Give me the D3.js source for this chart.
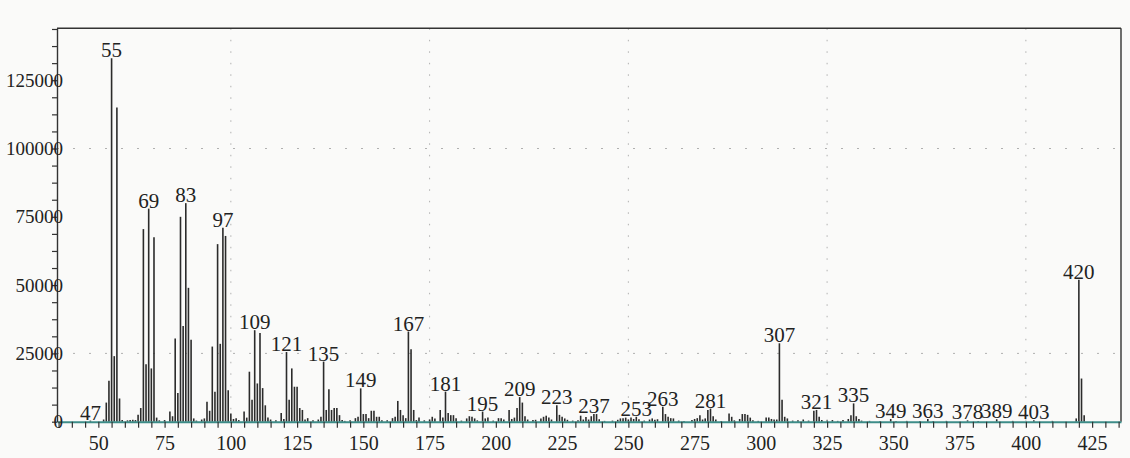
<!DOCTYPE html>
<html>
<head>
<meta charset="utf-8">
<script src="https://cdn.jsdelivr.net/npm/d3@7"></script>
<style>
  body { margin: 0; background: #fafaf9; }
  svg { display: block; }
  text { font-family: "Liberation Serif", "Times New Roman", serif; fill: #222; }
</style>
</head>
<body>
<svg id="chart"></svg>
<script>
// m/z of each peak and its intensity
const peakMz = [
  47, 52, 53, 54, 55, 56, 57, 58, 59, 61, 62, 63, 64, 65, 66, 67, 68, 69, 70, 71, 72, 73, 75,
  77, 78, 79, 80, 81, 82, 83, 84, 85, 86, 87, 89, 90, 91, 92, 93, 94, 95, 96, 97, 98, 99, 100,
  101, 102, 103, 105, 106, 107, 108, 109, 110, 111, 112, 113, 114, 115, 117, 119, 120, 121,
  122, 123, 124, 125, 126, 127, 128, 129, 131, 133, 134, 135, 136, 137, 138, 139, 140, 141,
  142, 143, 145, 147, 148, 149, 150, 151, 152, 153, 154, 155, 156, 157, 159, 161, 162, 163,
  164, 165, 166, 167, 168, 169, 170, 171, 173, 175, 176, 177, 179, 180, 181, 182, 183, 184,
  185, 187, 189, 190, 191, 192, 193, 195, 196, 197, 199, 201, 202, 203, 205, 206, 207, 208,
  209, 210, 211, 212, 214, 215, 217, 218, 219, 220, 221, 223, 224, 225, 226, 227, 229, 231,
  232, 233, 234, 235, 236, 237, 238, 239, 241, 244, 246, 247, 248, 249, 250, 251, 252, 253,
  254, 256, 258, 259, 260, 261, 263, 264, 265, 266, 267, 269, 271, 274, 275, 276, 277, 278,
  279, 280, 281, 282, 283, 285, 288, 289, 290, 292, 293, 294, 295, 296, 297, 299, 302, 303,
  304, 305, 306, 307, 308, 309, 310, 312, 314, 316, 318, 320, 321, 322, 323, 325, 327, 329,
  331, 333, 334, 335, 336, 337, 338, 341, 345, 349, 351, 355, 360, 363, 365, 370, 378, 382,
  389, 395, 403, 410, 419, 420, 421, 422
];
const peakIntensity = [
  400, 800, 7000, 15000, 133000, 24000, 115000, 8500, 600, 500, 600, 700, 600, 2500, 5000, 70500, 21000, 78000, 19500, 67500, 1500, 500, 600,
  3700, 2000, 30500, 10500, 75000, 35000, 80000, 49000, 30000, 1200, 400, 800, 1200, 7300, 4000, 27500, 11000, 65000, 28500, 71000, 68000, 11500, 3000,
  1000, 1300, 600, 3700, 1500, 18300, 8000, 33500, 14000, 32500, 12300, 6000, 1500, 800, 500, 3200, 1000, 25500,
  8000, 19500, 12800, 12800, 5000, 4300, 800, 1300, 500, 800, 1800, 22000, 4300, 11900, 4300, 5000, 5000, 2400,
  600, 300, 500, 1300, 1800, 12200, 2800, 2800, 1300, 4000, 4000, 1800, 1800, 500, 500, 1300, 1800, 7600,
  4300, 2400, 1300, 33000, 26500, 4300, 600, 1500, 500, 800, 1800, 1200, 4300, 1500, 11000, 3200, 2400, 2400,
  1300, 400, 1200, 2000, 1800, 1200, 500, 3700, 1200, 1500, 400, 1300, 1300, 800, 4300, 1000, 1500, 5000,
  9000, 7000, 2000, 800, 600, 700, 1200, 1800, 2200, 1500, 800, 6000, 2500, 1800, 1200, 700, 400, 500,
  2200, 800, 1700, 800, 2000, 2800, 2800, 900, 300, 400, 700, 1200, 1300, 1500, 800, 1500, 1000, 1800,
  900, 400, 800, 1200, 700, 900, 5500, 2800, 1800, 1300, 1200, 400, 300, 600, 1000, 1300, 2400, 800,
  1200, 4300, 4800, 2000, 800, 300, 3000, 1800, 500, 1000, 2800, 2800, 2500, 1500, 500, 300, 1500, 1500,
  1000, 800, 800, 28700, 8000, 1800, 1200, 400, 500, 800, 400, 4000, 4300, 1800, 600, 400, 600, 300,
  600, 1000, 2400, 6700, 2000, 1000, 400, 300, 300, 1000, 300, 300, 300, 1000, 300, 300, 500, 300,
  900, 300, 500, 300, 1200, 52000, 15800, 2400
];
// peaks that carry an m/z label
const labelMz = [47, 55, 69, 83, 97, 109, 121, 135, 149, 167, 181, 195, 209, 223, 237, 253, 263,
  281, 307, 321, 335, 349, 363, 378, 389, 403, 420];
// axis labels
const xTickLabels = [50, 75, 100, 125, 150, 175, 200, 225, 250, 275, 300, 325, 350, 375, 400, 425];
const yTickLabels = [0, 25000, 50000, 75000, 100000, 125000];
const xGrid = [100, 175, 250, 325, 400];
const yGrid = [25000, 100000];

const W = 1130, H = 458;
const margin = {top: 28.3, right: 9, bottom: 36.3, left: 57};
const width = W - margin.left - margin.right;
const height = H - margin.top - margin.bottom;

const svg = d3.select("#chart").attr("width", W).attr("height", H);
const g = svg.append("g").attr("transform", `translate(${margin.left},${margin.top})`);

const x = d3.scaleLinear().domain([34.4, 435.9]).range([0, width]);
const y = d3.scaleLinear().domain([0, 144000]).range([height, 0]);

const peaks = peakMz.map((m, i) => ({mz: m, v: peakIntensity[i]}));

// faint dotted grid
g.append("g").selectAll("line").data(xGrid).enter().append("line")
  .attr("x1", d => x(d)).attr("x2", d => x(d))
  .attr("y1", 0).attr("y2", height)
  .attr("stroke", "#b0b0b0").attr("stroke-width", 1)
  .attr("stroke-dasharray", "1.5,10");
g.append("g").selectAll("line").data(yGrid).enter().append("line")
  .attr("x1", 0).attr("x2", width)
  .attr("y1", d => y(d)).attr("y2", d => y(d))
  .attr("stroke", "#b0b0b0").attr("stroke-width", 1)
  .attr("stroke-dasharray", "2,14");

// frame (top and right)
g.append("line").attr("x1", 0).attr("x2", width).attr("y1", 0).attr("y2", 0)
  .attr("stroke", "#333").attr("stroke-width", 1.6);
g.append("line").attr("x1", width).attr("x2", width).attr("y1", 0).attr("y2", height)
  .attr("stroke", "#333").attr("stroke-width", 1.4);

// sticks
g.append("g").selectAll("line").data(peaks).enter().append("line")
  .attr("x1", d => x(d.mz)).attr("x2", d => x(d.mz))
  .attr("y1", y(0)).attr("y2", d => y(d.v))
  .attr("stroke", "#2b2b2b").attr("stroke-width", 1.6);

// peak labels
const labelled = peaks.filter(d => labelMz.includes(d.mz));
g.append("g").selectAll("text").data(labelled).enter().append("text")
  .attr("x", d => x(d.mz))
  .attr("y", d => y(d.v) - 1)
  .attr("text-anchor", "middle")
  .style("font-size", "21px")
  .text(d => d.mz);

// x axis
const xTicks = d3.range(35, 436, 5);
const xAxis = g.append("g")
  .attr("transform", `translate(0,${height})`)
  .call(d3.axisBottom(x).tickValues(xTicks).tickSize(6).tickSizeOuter(0)
    .tickFormat(d => xTickLabels.includes(d) ? d : ""));
xAxis.select(".domain").attr("stroke", "#3d8c88").attr("stroke-width", 2);
xAxis.selectAll(".tick line").attr("stroke", "#333").attr("stroke-width", 1.2);
xAxis.selectAll(".tick text").attr("dy", "0.95em").style("font-size", "20px")
  .style("font-family", "Liberation Serif, serif").attr("fill", "#222");

// y axis
const yTicks = d3.range(0, 144000, 6250);
const yAxis = g.append("g")
  .call(d3.axisLeft(y).tickValues(yTicks).tickSize(5).tickSizeOuter(0)
    .tickFormat(d => yTickLabels.includes(d) ? d : ""));
yAxis.select(".domain").attr("stroke", "#333").attr("stroke-width", 1.4);
yAxis.selectAll(".tick line").attr("stroke", "#333").attr("stroke-width", 1.2);
yAxis.selectAll(".tick text").attr("x", 6).style("font-size", "19px")
  .style("font-family", "Liberation Serif, serif").attr("fill", "#222");
</script>
</body>
</html>
